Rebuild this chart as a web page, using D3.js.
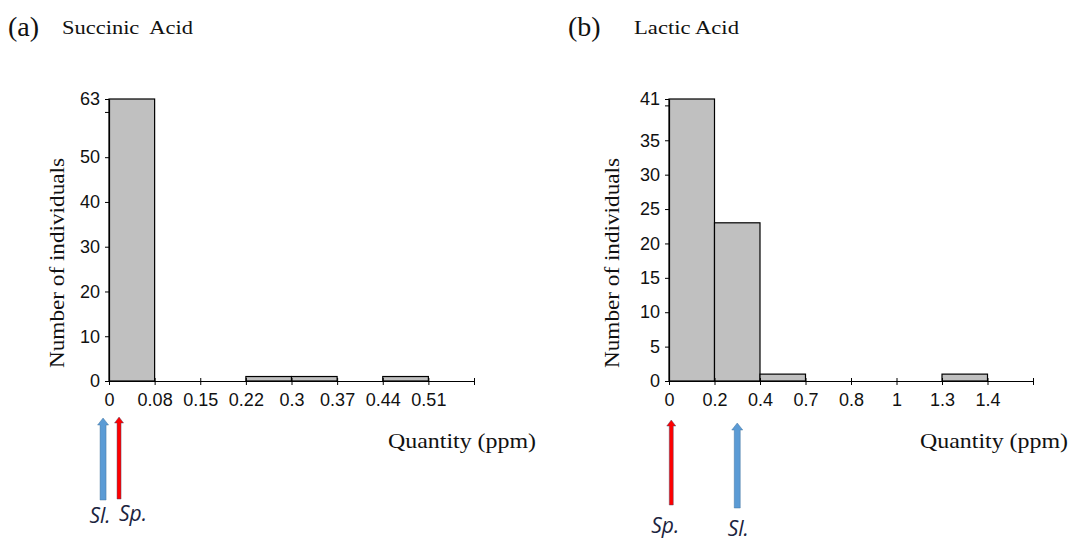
<!DOCTYPE html>
<html>
<head>
<meta charset="utf-8">
<script src="https://cdn.jsdelivr.net/npm/d3@7"></script>
<style>
  html, body { margin: 0; padding: 0; background: #fff; }
  svg { display: block; }
</style>
</head>
<body>
<svg id="chart" width="1072" height="542"></svg>
<script>
// Histogram bins (left-edge labels) and counts for each acid
const succinicBinLabels = ["0", "0.08", "0.15", "0.22", "0.3", "0.37", "0.44", "0.51", ""];
const succinicCounts = [63, 0, 0, 1, 1, 0, 1, 0];
const succinicYTicks = [0, 10, 20, 30, 40, 50, 63];
const succinicYMinorTicks = [60];

const lacticBinLabels = ["0", "0.2", "0.4", "0.7", "0.8", "1", "1.3", "1.4", ""];
const lacticCounts = [41, 23, 1, 0, 0, 0, 1, 0];
const lacticYTicks = [0, 5, 10, 15, 20, 25, 30, 35, 41];
const lacticYMinorTicks = [40];

// Species markers, positioned in bin units along the x axis
const succinicMarkers = [
  { name: "Sl.", pos: -0.13, kind: "sl" },
  { name: "Sp.", pos: 0.22, kind: "sp" }
];
const lacticMarkers = [
  { name: "Sp.", pos: 0.05, kind: "sp" },
  { name: "Sl.", pos: 1.5, kind: "sl" }
];

const svg = d3.select("#chart");
const SERIF = "'Liberation Serif', 'Times New Roman', serif";
const SANS = "'Liberation Sans', Arial, sans-serif";

function drawPanel(opt) {
  const g = svg.append("g");
  const nBins = opt.counts.length;
  const x = d3.scaleLinear().domain([0, nBins]).range([opt.x0, opt.x1]);
  const yMax = d3.max(opt.yTicks);
  const y = d3.scaleLinear().domain([0, yMax]).range([381, 99]);

  // bars (empty bins are not drawn)
  const bins = opt.counts.map((c, i) => ({ bin: i, count: c })).filter(d => d.count > 0);
  g.selectAll("rect.bar")
    .data(bins)
    .join("rect")
    .attr("class", "bar")
    .attr("x", d => x(d.bin))
    .attr("y", d => y(d.count))
    .attr("width", d => x(d.bin + 1) - x(d.bin))
    .attr("height", d => y(0) - y(d.count))
    .attr("fill", "#c0c0c0")
    .attr("stroke", "#000")
    .attr("stroke-width", 1.2);

  // y axis
  const yAxis = g.append("g")
    .attr("transform", `translate(${opt.x0},0)`)
    .call(d3.axisLeft(y).tickValues(opt.yTicks).tickSizeInner(4).tickSizeOuter(0).tickPadding(5));
  yAxis.select(".domain").attr("stroke", "#000").attr("stroke-width", 1.2);
  yAxis.selectAll("text").attr("font-family", SANS).attr("font-size", 18).attr("fill", "#111");
  g.append("g")
    .selectAll("line")
    .data(opt.yMinor)
    .join("line")
    .attr("x1", opt.x0 - 4).attr("x2", opt.x0)
    .attr("y1", d => y(d)).attr("y2", d => y(d))
    .attr("stroke", "#000");

  // x axis
  const xAxis = g.append("g")
    .attr("transform", `translate(0,${y(0)})`)
    .call(d3.axisBottom(x).tickValues(d3.range(nBins + 1))
      .tickFormat(i => opt.binLabels[i]).tickSizeInner(4).tickSizeOuter(0).tickPadding(8));
  xAxis.select(".domain").attr("stroke", "#000").attr("stroke-width", 1.2);
  xAxis.selectAll(".tick line").attr("y1", -3).attr("y2", 4);
  xAxis.selectAll("text").attr("font-family", SANS).attr("font-size", 18).attr("fill", "#111");

  // axis titles
  g.append("text")
    .attr("transform", `translate(${opt.yTitleX},263) rotate(-90)`)
    .attr("text-anchor", "middle")
    .attr("font-family", SERIF).attr("font-size", 22)
    .attr("textLength", 210).attr("lengthAdjust", "spacingAndGlyphs")
    .attr("fill", "#111")
    .text("Number of individuals");
  g.append("text")
    .attr("x", opt.xTitleX).attr("y", 448)
    .attr("font-family", SERIF).attr("font-size", 21)
    .attr("textLength", 148).attr("lengthAdjust", "spacingAndGlyphs")
    .attr("fill", "#111")
    .text("Quantity (ppm)");

  // panel letter and title
  g.append("text")
    .attr("x", opt.letterX).attr("y", 36)
    .attr("font-family", SERIF).attr("font-size", 28).attr("fill", "#111")
    .text(opt.letter);
  g.append("text")
    .attr("x", opt.titleX).attr("y", 34)
    .attr("font-family", SERIF).attr("font-size", 19).attr("fill", "#111")
    .attr("textLength", opt.titleW).attr("lengthAdjust", "spacingAndGlyphs")
    .attr("xml:space", "preserve")
    .text(opt.title);

  // species arrows
  const arrowStyle = {
    sl: { fill: "#5b9bd5", shaft: 6, head: 11, headH: 7, stroke: "#41719c" },
    sp: { fill: "#ff0000", shaft: 4, head: 9, headH: 6, stroke: "#4a4a6a" }
  };
  opt.markers.forEach((m, k) => {
    const s = arrowStyle[m.kind];
    const cx = x(m.pos);
    const top = opt.arrowTop[k], bottom = opt.arrowBottom[k];
    const path = d3.path();
    path.moveTo(cx - s.shaft / 2, bottom);
    path.lineTo(cx - s.shaft / 2, top + s.headH);
    path.lineTo(cx - s.head / 2, top + s.headH);
    path.lineTo(cx, top);
    path.lineTo(cx + s.head / 2, top + s.headH);
    path.lineTo(cx + s.shaft / 2, top + s.headH);
    path.lineTo(cx + s.shaft / 2, bottom);
    path.closePath();
    g.append("path")
      .attr("d", path.toString())
      .attr("fill", s.fill)
      .attr("stroke", s.stroke)
      .attr("stroke-opacity", 0.45)
      .attr("stroke-width", 1);
    g.append("text")
      .attr("x", cx + opt.labelDx[k]).attr("y", opt.labelY[k])
      .attr("text-anchor", "middle")
      .attr("font-family", "'Open Sans', 'Liberation Sans', sans-serif")
      .attr("font-style", "italic")
      .attr("font-size", 21)
      .attr("fill", "#1b2440")
      .text(m.name);
  });
}

drawPanel({
  x0: 109, x1: 474,
  counts: succinicCounts, binLabels: succinicBinLabels,
  yTicks: succinicYTicks, yMinor: succinicYMinorTicks,
  yTitleX: 64, xTitleX: 388,
  letter: "(a)", letterX: 8, title: "Succinic  Acid", titleX: 62, titleW: 131,
  markers: succinicMarkers,
  arrowTop: [418, 417], arrowBottom: [500, 499],
  labelDx: [-3, 14], labelY: [523, 521]
});

drawPanel({
  x0: 669, x1: 1033,
  counts: lacticCounts, binLabels: lacticBinLabels,
  yTicks: lacticYTicks, yMinor: lacticYMinorTicks,
  yTitleX: 619, xTitleX: 920,
  letter: "(b)", letterX: 568, title: "Lactic Acid", titleX: 634, titleW: 105,
  markers: lacticMarkers,
  arrowTop: [420, 423], arrowBottom: [505, 508],
  labelDx: [-6, 1], labelY: [533, 536]
});
</script>
</body>
</html>
